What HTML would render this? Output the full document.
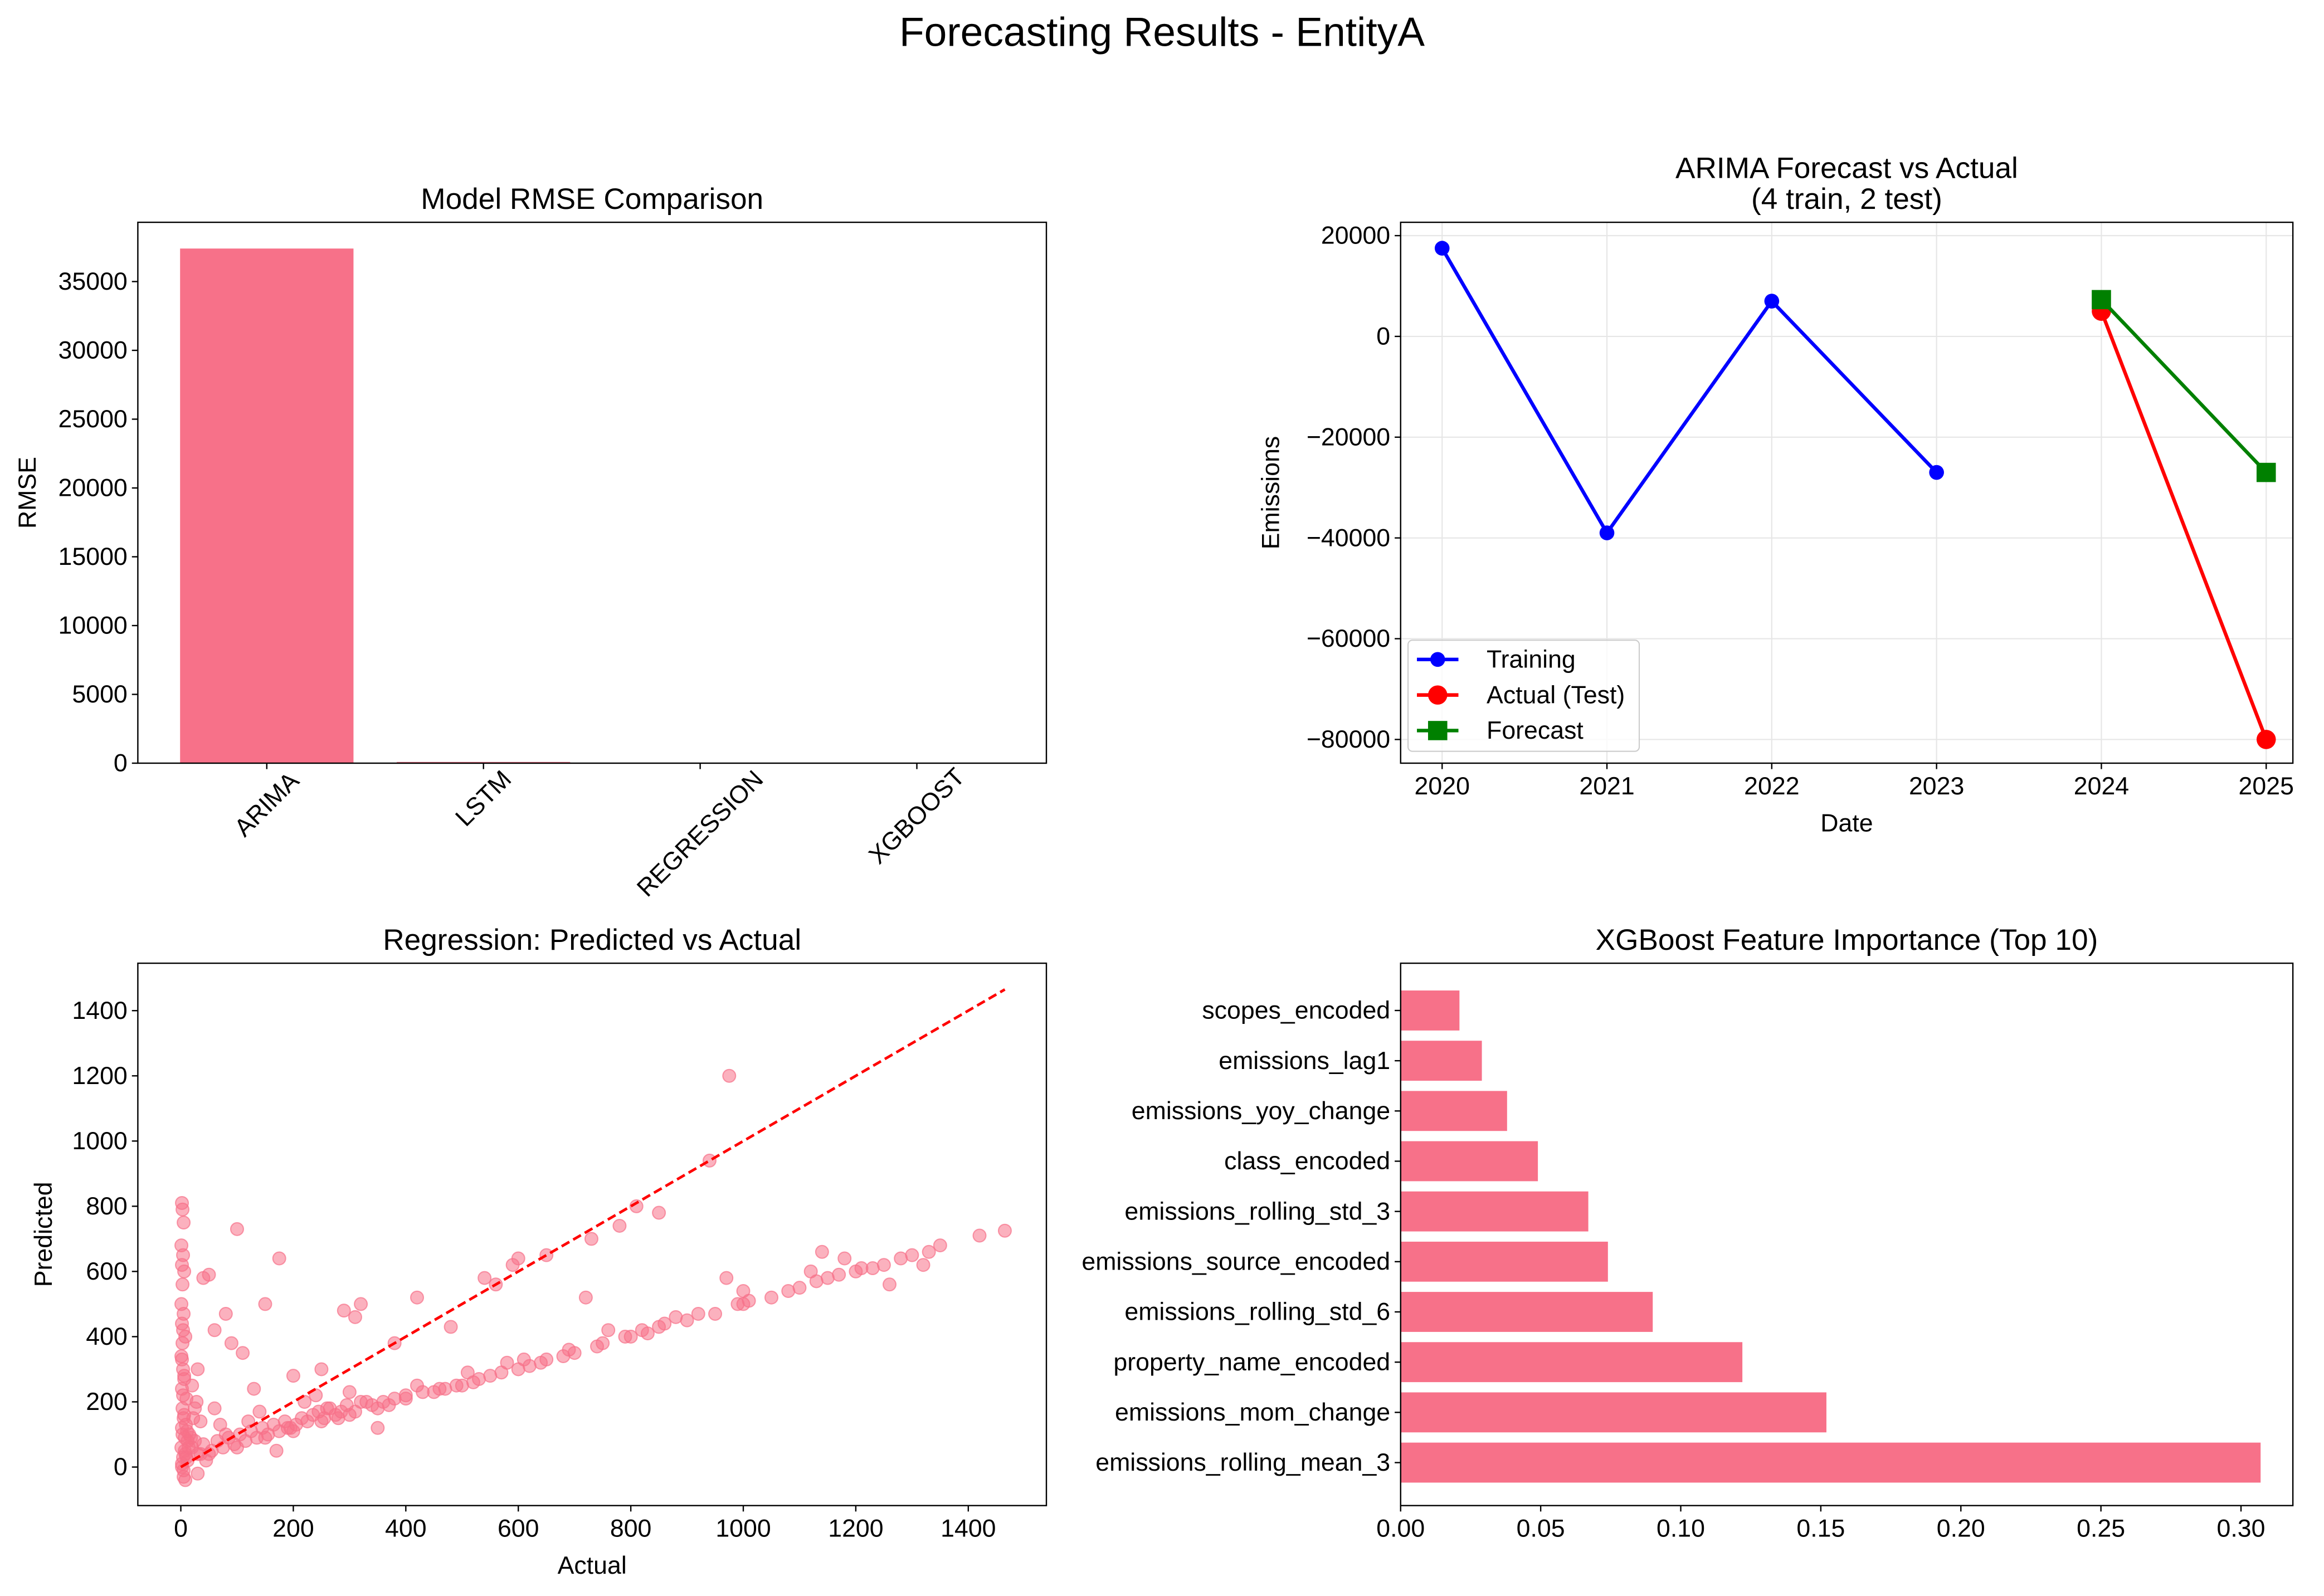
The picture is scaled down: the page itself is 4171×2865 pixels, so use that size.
<!DOCTYPE html>
<html><head><meta charset="utf-8"><style>
html,body{margin:0;padding:0;background:#fff;}
svg{display:block;font-family:"Liberation Sans",sans-serif;}
</style></head><body>
<svg id="fig" width="4171" height="2865" viewBox="0 0 1568 1077" xmlns="http://www.w3.org/2000/svg">
<rect width="1568" height="1077" fill="#fff"/>
<text x="784" y="31" text-anchor="middle" font-size="27.5">Forecasting Results - EntityA</text>
<g id="p1"></g>
<g id="p2"></g>
<g id="p3"></g>
<g id="p4"></g>
</svg>
<script>
// ---- data ----
const rmseModels = ["ARIMA","LSTM","REGRESSION","XGBOOST"];
const rmseValues = [37400, 90, 30, 25];
const rmseTicks = [0,5000,10000,15000,20000,25000,30000,35000];

const trainYears = [2020,2021,2022,2023];
const trainVals = [17500,-39000,7000,-27000];
const testYears = [2024,2025];
const actualVals = [5000,-80000];
const forecastVals = [7300,-27000];
const arimaYTicks = [-80000,-60000,-40000,-20000,0,20000];
const arimaXTicks = [2020,2021,2022,2023,2024,2025];

const scatterActual = [2,3,5,1,4,2,6,3,1,5,2,8,3,1,4,6,2,10,3,5,2,7,1,4,2,5,8,12,15,20,25,30,
100,175,50,40,80,150,110,60,290,320,310,380,420,540,590,600,650,780,810,850,940,975,730,560,480,250,200,130,90,30,
50,100,150,200,250,300,350,400,450,500,550,600,650,700,750,800,850,900,950,1000,1050,1100,1150,1200,1250,1300,1350,1420,1465,1260,1320,1180,1000,720,350,170,120,80,60,220,280,330,420,510,610,690,760,820,880,970,1120,1230,1140,45,25,35,70,140,190,240,260,300,370,460,530,580,
10,20,30,40,55,65,75,85,95,105,115,125,135,145,155,165,175,185,195,205,215,225,235,245,255,265,275,285,295,310,320,340,360,380,400,430,470,490,520,570,620,640,680,740,790,830,860,920,990,1010,1080,1130,1170,1210,1280,1330,
3,6,9,12,4,7,2,5,8,11,14,18,22,28,35,2,4,6];
const scatterPred = [810,790,750,680,650,620,600,560,500,470,440,400,380,340,300,270,240,210,180,150,120,90,60,30,0,-30,-40,20,100,250,180,-20,
730,640,590,580,470,500,350,420,480,500,460,380,520,580,620,640,650,740,800,780,940,1200,700,560,430,300,280,240,380,300,
40,60,90,110,140,160,180,210,230,250,280,300,330,350,380,400,430,450,470,500,520,550,580,600,620,650,680,710,725,560,620,640,540,520,120,50,140,100,180,200,150,200,250,290,330,360,420,420,460,580,600,610,660,20,80,140,130,170,120,220,180,230,190,240,270,320,
30,60,40,70,50,80,60,90,70,100,80,110,90,120,100,130,110,140,120,130,150,140,160,170,150,180,160,170,190,170,200,190,200,210,220,230,240,250,260,290,310,320,340,370,400,410,440,470,500,510,540,570,590,610,640,660,
100,160,130,80,220,50,10,-10,40,110,60,90,150,200,40,330,420,280];
const scatterXTicks = [0,200,400,600,800,1000,1200,1400];
const scatterYTicks = [0,200,400,600,800,1000,1200,1400];

const featNames = ["emissions_rolling_mean_3","emissions_mom_change","property_name_encoded","emissions_rolling_std_6","emissions_source_encoded","emissions_rolling_std_3","class_encoded","emissions_yoy_change","emissions_lag1","scopes_encoded"];
const featVals = [0.307,0.152,0.122,0.090,0.074,0.067,0.049,0.038,0.029,0.021];
const featTicks = [0,0.05,0.10,0.15,0.20,0.25,0.30];

const NS="http://www.w3.org/2000/svg";
const PINK="#f77189";
const FS=16.8, TFS=20;
function mk(parent,tag,attrs,text){const e=document.createElementNS(NS,tag);for(const k in attrs)e.setAttribute(k,attrs[k]);if(text!==undefined)e.textContent=text;parent.appendChild(e);return e;}
function frame(g,L,R,T,B){const r=mk(g,"rect",{x:L,y:T,width:R-L,height:B-T,fill:"none",stroke:"#000","stroke-width":0.9});}
function ytick(g,x,y,label){mk(g,"line",{x1:x-4,x2:x,y1:y,y2:y,stroke:"#000","stroke-width":0.9});const t=mk(g,"text",{x:x-7,y:y+5.5,"text-anchor":"end","font-size":FS},label);}
function xtick(g,x,y,label){mk(g,"line",{x1:x,x2:x,y1:y,y2:y+4,stroke:"#000","stroke-width":0.9});const t=mk(g,"text",{x:x,y:y+21,"text-anchor":"middle","font-size":FS},label);}

// ---- Panel 1 ----
(function(){
const g=document.getElementById('p1');const L=93,R=706,T=150,B=515;
const xs=i=>180+i*146.2; const ys=v=>B-(v/5000)*46.43;
const t=mk(g,"text",{x:(L+R)/2,y:141,"text-anchor":"middle","font-size":TFS},"Model RMSE Comparison");
rmseValues.forEach((v,i)=>{const r=mk(g,"rect",{x:xs(i)-58.5,y:ys(v),width:117,height:B-ys(v),fill:PINK});});
frame(g,L,R,T,B);
rmseTicks.forEach(v=>ytick(g,L,ys(v),String(v)));
rmseModels.forEach((m,i)=>{const x=xs(i);mk(g,"line",{x1:x,x2:x,y1:B,y2:B+4,stroke:"#000","stroke-width":0.9});
const len=m.length*5.6; const cy=B+8+len*0.707; 
const tx=mk(g,"text",{x:x,y:cy+5.5,"text-anchor":"middle","font-size":FS,transform:`rotate(-45 ${x} ${cy})`},m);});
const yl=mk(g,"text",{x:24,y:(T+B)/2,"text-anchor":"middle","font-size":FS,transform:`rotate(-90 24 ${(T+B)/2})`},"RMSE");
})();

// ---- Panel 2 ----
(function(){
const g=document.getElementById('p2');const L=945,R=1547,T=150,B=515;
const xs=y=>973+(y-2020)*111.2; const ys=v=>227-v*0.0034;
const t1=mk(g,"text",{x:(L+R)/2,y:120,"text-anchor":"middle","font-size":TFS},"ARIMA Forecast vs Actual");
const t2=mk(g,"text",{x:(L+R)/2,y:141,"text-anchor":"middle","font-size":TFS},"(4 train, 2 test)");
arimaYTicks.forEach(v=>mk(g,"line",{x1:L,x2:R,y1:ys(v),y2:ys(v),stroke:"#e6e6e6","stroke-width":0.8}));
arimaXTicks.forEach(v=>mk(g,"line",{x1:xs(v),x2:xs(v),y1:T,y2:B,stroke:"#e6e6e6","stroke-width":0.8}));
const pts=(X,Y)=>X.map((x,i)=>xs(x)+","+ys(Y[i])).join(" ");
const l1=mk(g,"polyline",{points:pts(trainYears,trainVals),fill:"none",stroke:"#0000ff","stroke-width":2.4});
trainYears.forEach((x,i)=>{const c=mk(g,"circle",{cx:xs(x),cy:ys(trainVals[i]),r:5,fill:"#0000ff"});});
const l2=mk(g,"polyline",{points:pts(testYears,actualVals),fill:"none",stroke:"#ff0000","stroke-width":2.4});
testYears.forEach((x,i)=>{const c=mk(g,"circle",{cx:xs(x),cy:ys(actualVals[i]),r:6.5,fill:"#ff0000"});});
const l3=mk(g,"polyline",{points:pts(testYears,forecastVals),fill:"none",stroke:"#008000","stroke-width":2.4});
testYears.forEach((x,i)=>{const c=mk(g,"rect",{x:xs(x)-6.5,y:ys(forecastVals[i])-6.5,width:13,height:13,fill:"#008000"});});
frame(g,L,R,T,B);
arimaYTicks.forEach(v=>ytick(g,L,ys(v),v<0?"\u2212"+(-v):String(v)));
arimaXTicks.forEach(v=>xtick(g,xs(v),B,String(v)));
const xl=mk(g,"text",{x:(L+R)/2,y:B+46,"text-anchor":"middle","font-size":FS},"Date");
const yl=mk(g,"text",{x:863,y:(T+B)/2,"text-anchor":"middle","font-size":FS,transform:`rotate(-90 863 ${(T+B)/2})`},"Emissions");
const lg=mk(g,"g",{});
mk(lg,"rect",{x:950,y:432,width:156,height:75,rx:3,fill:"#fff","fill-opacity":0.8,stroke:"#ccc","stroke-width":0.8});
const items=[["Training","#0000ff","c",5],["Actual (Test)","#ff0000","c",6.5],["Forecast","#008000","s",6.5]];
items.forEach((it,i)=>{const y=445+i*24;const e=mk(lg,"g",{});
mk(e,"line",{x1:956,x2:984,y1:y,y2:y,stroke:it[1],"stroke-width":2.4});
if(it[2]=="c")mk(e,"circle",{cx:970,cy:y,r:it[3],fill:it[1]});else mk(e,"rect",{x:963.5,y:y-6.5,width:13,height:13,fill:it[1]});
mk(e,"text",{x:1003,y:y+5.5,"font-size":FS},it[0]);});
})();

// ---- Panel 3 ----
(function(){
const g=document.getElementById('p3');const L=93,R=706,T=650,B=1016;
const xs=v=>122+v*0.3795; const ys=v=>990-v*0.22;
const t=mk(g,"text",{x:(L+R)/2,y:641,"text-anchor":"middle","font-size":TFS},"Regression: Predicted vs Actual");
scatterActual.forEach((a,i)=>{const c=mk(g,"circle",{cx:xs(a),cy:ys(scatterPred[i]),r:4.3,fill:PINK,"fill-opacity":0.55,stroke:PINK,"stroke-opacity":0.7,"stroke-width":0.8});});
const dl=mk(g,"line",{x1:xs(0),y1:ys(0),x2:xs(1465),y2:ys(1465),stroke:"#ff0000","stroke-width":1.8,"stroke-dasharray":"6,3"});
frame(g,L,R,T,B);
scatterYTicks.forEach(v=>ytick(g,L,ys(v),String(v)));
scatterXTicks.forEach(v=>xtick(g,xs(v),B,String(v)));
const xl=mk(g,"text",{x:(L+R)/2,y:B+46,"text-anchor":"middle","font-size":FS},"Actual");
const yl=mk(g,"text",{x:35,y:(T+B)/2,"text-anchor":"middle","font-size":FS,transform:`rotate(-90 35 ${(T+B)/2})`},"Predicted");
})();

// ---- Panel 4 ----
(function(){
const g=document.getElementById('p4');const L=945,R=1547,T=650,B=1016;
const xs=v=>L+v*1890; const ys=i=>987-i*33.9;
const t=mk(g,"text",{x:(L+R)/2,y:641,"text-anchor":"middle","font-size":TFS},"XGBoost Feature Importance (Top 10)");
featVals.forEach((v,i)=>{const r=mk(g,"rect",{x:L,y:ys(i)-13.5,width:xs(v)-L,height:27,fill:PINK});});
frame(g,L,R,T,B);
featNames.forEach((n,i)=>ytick(g,L,ys(i),n));
featTicks.forEach(v=>xtick(g,xs(v),B,v.toFixed(2)));
})();
</script>
</body></html>
